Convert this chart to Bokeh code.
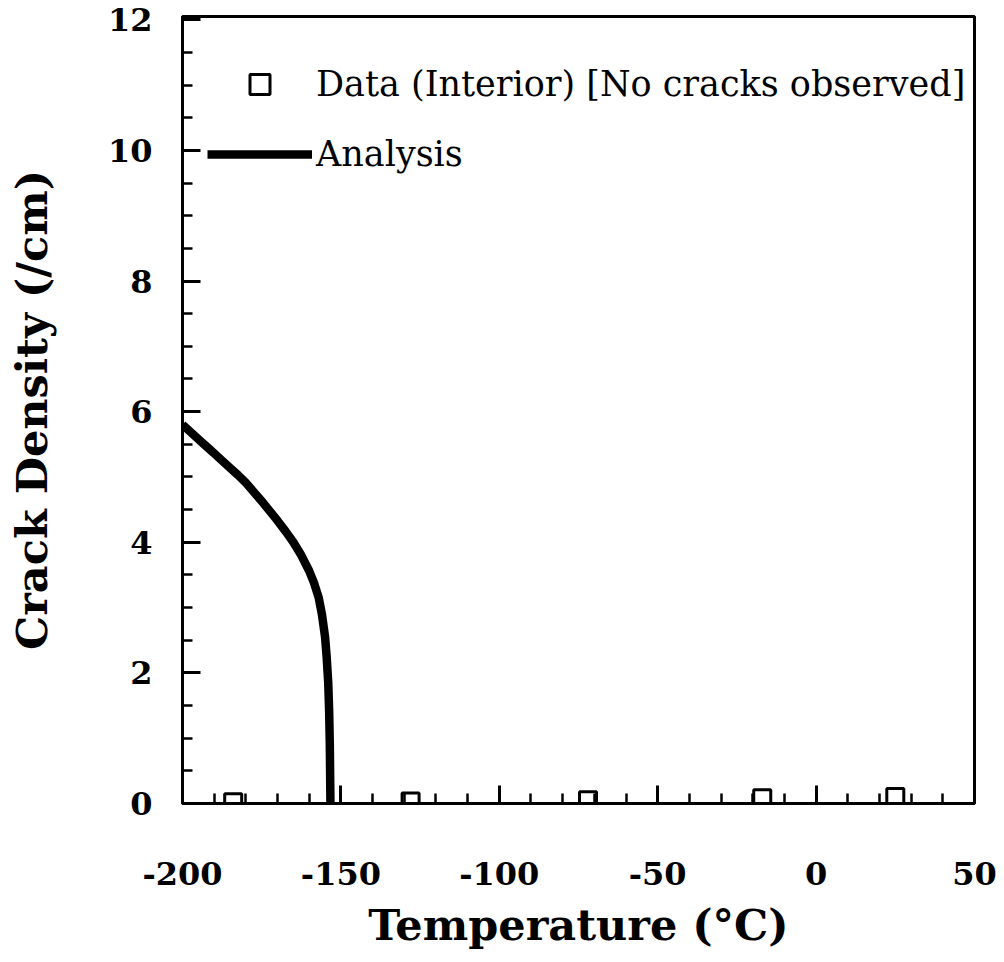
from bokeh.plotting import figure
from bokeh.models import Range1d, Legend, LegendItem, FixedTicker, PrintfTickFormatter
from bokeh.embed import file_html
from bokeh.resources import INLINE

# Data
data_temp = [-184, -128, -72, -17, 25]
data_density = [0.02, 0.03, 0.05, 0.08, 0.1]

analysis_temp = [-200, -197.5, -195, -192.5, -190, -187.5, -185, -182.5, -180, -177.5, -175,
                 -172.5, -170, -167.5, -165, -162.5, -160, -158.5, -157, -156, -155, -154.5,
                 -154, -153.7, -153.5, -153.3]
analysis_density = [5.8, 5.69, 5.58, 5.47, 5.36, 5.25, 5.14, 5.03, 4.91, 4.77, 4.63,
                     4.48, 4.33, 4.17, 4.0, 3.8, 3.56, 3.38, 3.15, 2.9, 2.55, 2.25,
                     1.85, 1.4, 0.9, 0.0]

x_ticks = [-200, -150, -100, -50, 0, 50]
y_ticks = [0, 2, 4, 6, 8, 10, 12]

p = figure(width=1000, height=961, output_backend="svg", toolbar_location=None,
           x_range=Range1d(-200, 50), y_range=Range1d(0, 12.05))
p.min_border_left = 182
p.min_border_right = 26
p.min_border_top = 16
p.min_border_bottom = 158
p.grid.visible = False
p.outline_line_color = "black"
p.outline_line_width = 3
p.background_fill_color = "white"
p.border_fill_color = "white"

line_r = p.line(analysis_temp, analysis_density, line_color="black", line_width=8.5,
                line_join="round")
sq_r = p.scatter(data_temp, data_density, marker="square", size=17, fill_color="white",
                 line_color="black", line_width=3)

for ax in (p.xaxis[0], p.yaxis[0]):
    ax.axis_line_width = 3
    ax.major_tick_line_width = 3
    ax.minor_tick_line_width = 2.5
    ax.major_tick_in = 18
    ax.major_tick_out = 0
    ax.minor_tick_in = 10
    ax.minor_tick_out = 0
    ax.major_label_text_font = "DejaVu Serif"
    ax.major_label_text_font_style = "bold"
    ax.major_label_text_font_size = "32px"
    ax.major_label_text_color = "black"
    ax.axis_label_text_font = "DejaVu Serif"
    ax.axis_label_text_font_style = "bold"
    ax.axis_label_text_font_size = "43px"
    ax.axis_label_text_color = "black"
    ax.formatter = PrintfTickFormatter(format="%d")

p.xaxis[0].ticker = FixedTicker(ticks=x_ticks, minor_ticks=list(range(-200, 51, 10)))
p.yaxis[0].ticker = FixedTicker(ticks=y_ticks, minor_ticks=[i * 0.5 for i in range(0, 25)])
p.xaxis[0].major_label_standoff = 58
p.yaxis[0].major_label_standoff = 30
p.xaxis[0].axis_label = "Temperature (°C)"
p.yaxis[0].axis_label = "Crack Density (/cm)"
p.xaxis[0].axis_label_standoff = 12
p.yaxis[0].axis_label_standoff = 48

legend = Legend(items=[
    LegendItem(label="Data (Interior) [No cracks observed]", renderers=[sq_r]),
    LegendItem(label="Analysis", renderers=[line_r]),
], location=(25, 624))
legend.glyph_width = 105
legend.glyph_height = 50
legend.label_height = 50
legend.spacing = 20
legend.padding = 0
legend.margin = 0
legend.label_standoff = 4
legend.border_line_color = None
legend.background_fill_alpha = 0
legend.label_text_font = "DejaVu Serif"
legend.label_text_font_size = "35px"
legend.label_text_color = "black"
p.add_layout(legend)

open("out.html", "w").write(file_html(p, INLINE))
